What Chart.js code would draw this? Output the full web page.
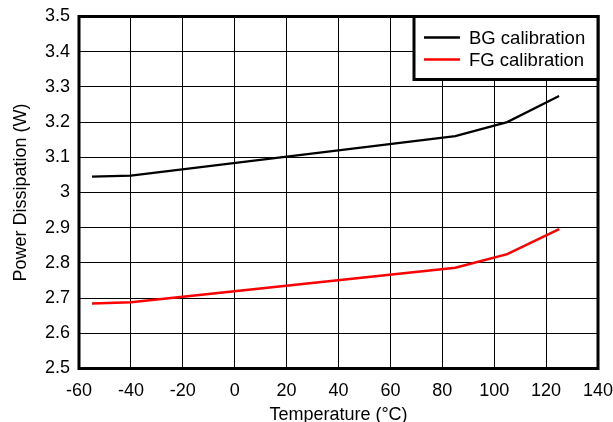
<!DOCTYPE html>
<html>
<head>
<meta charset="utf-8">
<script src="https://cdn.jsdelivr.net/npm/chart.js@4"></script>
<style>
  html, body { margin: 0; padding: 0; background: #fff; }
  #wrap { width: 613px; height: 422px; }
</style>
</head>
<body>
<div id="wrap"><canvas id="chart"></canvas></div>
<script>
const temps = [-55, -40, 85, 105, 125];
const bgValues = [3.045, 3.048, 3.16, 3.2, 3.274];
const fgValues = [2.685, 2.688, 2.786, 2.825, 2.896];
const seriesLabels = ["BG calibration", "FG calibration"];

const fontFamily = "'Liberation Sans', Arial, sans-serif";

// frame around the plot + legend box in the top right corner
const framePlugin = {
  id: "frame",
  afterDraw(chart) {
    const { ctx, chartArea } = chart;
    ctx.save();
    ctx.strokeStyle = "#000";
    ctx.lineWidth = 3;
    ctx.strokeRect(chartArea.left, chartArea.top, chartArea.right - chartArea.left, chartArea.bottom - chartArea.top);

    const boxW = 184, boxH = 63;
    const x0 = chartArea.right - boxW, y0 = chartArea.top;
    ctx.fillStyle = "#fff";
    ctx.fillRect(x0, y0, boxW, boxH);
    ctx.lineWidth = 3;
    ctx.strokeRect(x0, y0, boxW, boxH);

    ctx.font = "18.5px " + fontFamily;
    ctx.textBaseline = "middle";
    chart.data.datasets.forEach((ds, i) => {
      const y = y0 + 21 + i * 22;
      ctx.strokeStyle = ds.borderColor;
      ctx.lineWidth = 2.5;
      ctx.beginPath();
      ctx.moveTo(x0 + 10, y);
      ctx.lineTo(x0 + 46, y);
      ctx.stroke();
      ctx.fillStyle = "#000";
      ctx.fillText(ds.label, x0 + 55, y + 1);
    });
    ctx.restore();
  },
};

const chart = new Chart(document.getElementById("chart"), {
  type: "line",
  data: {
    datasets: [
      {
        label: seriesLabels[0],
        data: temps.map((t, i) => ({ x: t, y: bgValues[i] })),
        borderColor: "#000",
        borderWidth: 2.2,
        pointRadius: 0,
        tension: 0,
      },
      {
        label: seriesLabels[1],
        data: temps.map((t, i) => ({ x: t, y: fgValues[i] })),
        borderColor: "#ff0000",
        borderWidth: 2.5,
        pointRadius: 0,
        tension: 0,
      },
    ],
  },
  options: {
    responsive: true,
    maintainAspectRatio: false,
    animation: false,
    layout: {
      padding: { top: 16.5, right: 15, bottom: 0, left: 10 },
    },
    plugins: {
      legend: { display: false },
      tooltip: { enabled: false },
    },
    scales: {
      x: {
        type: "linear",
        min: -60,
        max: 140,
        afterFit: (axis) => {
          axis.height = 53.5;
          axis.paddingLeft = 0;
          axis.paddingRight = 0;
        },
        ticks: {
          stepSize: 20,
          color: "#000",
          padding: 12,
          font: { size: 18, family: fontFamily },
        },
        grid: {
          color: "#000",
          lineWidth: 1,
          drawTicks: false,
        },
        border: { display: false },
        title: {
          display: true,
          text: "Temperature (°C)",
          color: "#000",
          padding: { top: 3, bottom: 0 },
          font: { size: 18, family: fontFamily, lineHeight: 0.8 },
        },
      },
      y: {
        min: 2.5,
        max: 3.5,
        afterFit: (axis) => {
          axis.width = 69;
          axis.paddingTop = 0;
          axis.paddingBottom = 0;
        },
        ticks: {
          stepSize: 0.1,
          color: "#000",
          padding: 9,
          font: { size: 18, family: fontFamily },
          callback: (value) => String(parseFloat(value.toFixed(1))),
        },
        grid: {
          color: "#000",
          lineWidth: 1,
          drawTicks: false,
        },
        border: { display: false },
        title: {
          display: true,
          text: "Power Dissipation (W)",
          color: "#000",
          padding: { top: 0, bottom: 14 },
          font: { size: 18, family: fontFamily },
        },
      },
    },
  },
  plugins: [framePlugin],
});
</script>
</body>
</html>
